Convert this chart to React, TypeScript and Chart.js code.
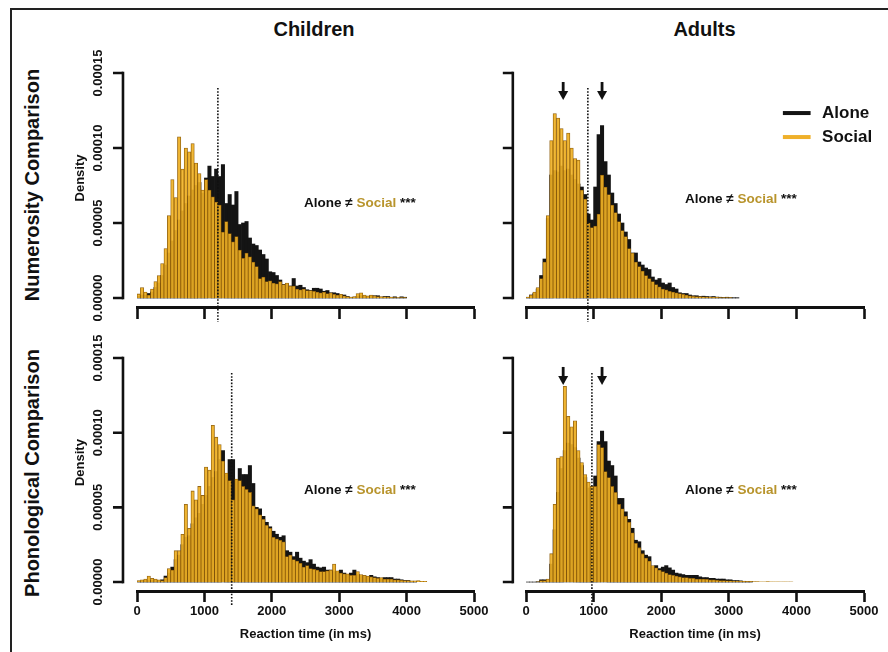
import React, { useEffect, useRef } from "react";
import { Chart, registerables } from "chart.js";

Chart.register(...registerables);

// ---------- text & style ----------
const FONT = '"Liberation Sans", Arial, Helvetica, sans-serif';
const INK = "#111111";
const SOCIAL_FILL = "rgba(241,178,38,0.9)";
const SOCIAL_EDGE = "rgba(140,92,10,0.95)";
const SOCIAL_LINE = "#EFB02A";
const SOCIAL_TEXT = "#B8942C";
const ALONE_FILL = "#141414";

const COLUMN_TITLES = ["Children", "Adults"];
const ROW_TITLES = ["Numerosity Comparison", "Phonological Comparison"];
const SERIES = ["Alone", "Social"];
const NOTE_PARTS = ["Alone \u2260 ", "Social", " ***"];
const X_TITLE = "Reaction time (in ms)";
const Y_TITLE = "Density";

// ---------- scales ----------
const BIN_MS = 50;
const DENSITY_UNIT = 1e-5; // histogram values below are in units of 0.00001
const X_MIN = 0;
const X_MAX = 5000;
const X_STEP = 1000;
const Y_MIN = -0.000006;
const Y_TICKS = [0, 0.00005, 0.0001, 0.00015];
const DENSITY_LABEL_AT = 0.00008;
const MEDIAN_LINE_TOP = 0.00014;
const ARROW_FROM = 0.000144;
const ARROW_TO = 0.000132;

// ---------- data (density per 50 ms bin, x 1e-5) ----------
const CHILD_NUM_SOCIAL = [
  0.27, 0.7, 0.4, 0.2, 0.6, 1.1, 1.5, 2.3, 3.3, 5.5,
  7.9, 6.7, 10.75, 8.6, 10.0, 9.75, 10.3, 9.0, 8.3, 7.2,
  7.9, 7.2, 6.75, 6.4, 6.2, 4.4, 5.1, 4.3, 3.75, 4.1,
  3.2, 2.65, 3.0, 2.75, 2.4, 2.1, 1.3, 1.4, 1.1, 1.15,
  1.0, 0.95, 1.1, 0.9, 1.0, 0.8, 0.8, 0.6, 0.55, 0.6,
  0.5, 0.5, 0.45, 0.4, 0.35, 0.4, 0.3, 0.35, 0.25, 0.2,
  0.25, 0.15, 0.1, 0.05, 0.1, 0.3, 0.35, 0.2, 0.15, 0.2,
  0.15, 0.1, 0.1, 0.08, 0.05, 0.05, 0.03, 0.03, 0.02, 0.02,
];
const CHILD_NUM_ALONE = [
  0.1, 0.2, 0.2, 0.3, 0.4, 0.7, 1.0, 1.5, 2.2, 3.0,
  3.8, 4.5, 5.2, 5.8, 6.3, 6.8, 7.2, 7.5, 7.7, 7.0,
  8.0, 8.8, 8.1, 8.6, 8.1, 8.9, 6.3, 6.9, 6.2, 7.1,
  4.9, 5.0, 5.1, 4.0, 3.6, 3.5, 3.2, 2.9, 2.6, 1.75,
  1.7, 1.5, 1.2, 0.9, 0.9, 0.8, 1.3, 0.8, 0.85, 0.7,
  0.55, 0.5, 0.65, 0.65, 0.6, 0.45, 0.5, 0.35, 0.35, 0.3,
  0.2, 0.2, 0.1, 0.05, 0.05, 0.1, 0.15, 0.1, 0.1, 0.15,
  0.15, 0.15, 0.05, 0.1, 0.1, 0.05, 0.08, 0, 0.08, 0.05,
];
const ADULT_NUM_SOCIAL = [
  0.05, 0.2, 0.4, 0.7, 1.3, 2.4, 5.5, 10.5, 12.3, 12.0,
  11.3, 10.5, 11.0, 10.0, 9.3, 9.2, 7.2, 6.6, 5.0, 4.7,
  4.8, 5.6, 8.2, 7.4, 6.9, 6.2, 5.7, 5.1, 4.5, 4.1,
  3.3, 3.0, 2.4, 2.1, 1.8, 1.5, 1.3, 1.1, 0.9, 0.75,
  0.6, 0.55, 0.45, 0.4, 0.35, 0.3, 0.25, 0.2, 0.15, 0.12,
  0.1, 0.1, 0.08, 0.06, 0.05, 0.05, 0.04, 0.03, 0.03, 0.02,
  0.02,
];
const ADULT_NUM_ALONE = [
  0.05, 0.2, 0.3, 0.6, 1.5, 2.6, 5.3, 8.2, 8.5, 8.4,
  8.8, 8.5, 8.6, 8.2, 7.9, 7.6, 7.4, 6.9, 5.6, 5.2,
  7.4, 10.9, 11.5, 9.1, 8.2, 7.0, 6.3, 5.6, 5.0, 4.4,
  3.9, 3.0, 3.0, 2.4, 2.2, 2.0, 1.9, 1.4, 1.2, 1.3,
  1.0, 0.9, 1.0, 0.7, 0.6, 0.35, 0.3, 0.3, 0.2, 0.15,
  0.15, 0.1, 0.12, 0.1, 0.08, 0.1, 0.06, 0.05, 0.04, 0.05,
  0.03, 0.02, 0.02,
];
const CHILD_PHON_SOCIAL = [
  0.1, 0.15, 0.2, 0.4, 0.25, 0.2, 0.15, 0.1, 0.3, 0.9,
  0.8, 2.1, 2.1, 3.2, 5.2, 3.6, 6.1, 5.5, 6.4, 5.8,
  7.7, 7.5, 10.5, 9.7, 9.2, 8.1, 7.3, 6.8, 5.5, 6.9,
  6.8, 6.4, 6.2, 6.0, 5.1, 4.9, 4.5, 4.2, 3.8, 3.6,
  3.0, 2.9, 2.8, 2.7, 1.7, 1.8, 1.5, 1.4, 1.25, 1.0,
  1.1, 0.9, 0.85, 0.8, 0.7, 0.7, 0.75, 0.8, 1.2, 0.75,
  0.6, 0.55, 0.55, 0.45, 0.45, 0.7, 0.5, 0.45, 0.4, 0.35,
  0.3, 0.25, 0.3, 0.2, 0.2, 0.2, 0.15, 0.15, 0.12, 0.1,
  0.1, 0.08, 0.08, 0.1, 0.05, 0.05,
];
const CHILD_PHON_ALONE = [
  0.05, 0.05, 0.1, 0.1, 0.1, 0.1, 0.1, 0.15, 0.4, 0.6,
  1.0, 1.5, 1.8, 2.5, 3.0, 3.1, 3.9, 4.3, 4.6, 5.2,
  5.8, 6.4, 7.0, 7.4, 8.2, 8.8, 7.2, 8.2, 8.2, 6.8,
  7.6, 7.2, 7.2, 7.8, 6.6, 5.0, 4.9, 4.4, 4.0, 3.7,
  3.4, 3.2, 3.0, 3.1, 2.1, 2.0, 1.7, 2.0, 1.6, 1.4,
  1.3, 1.5, 1.2, 1.0, 0.95, 1.0, 0.8, 0.8, 0.7, 0.65,
  0.8, 0.6, 0.5, 0.6, 0.8, 0.5, 0.45, 0.4, 0.35, 0.45,
  0.35, 0.3, 0.25, 0.3, 0.3, 0.3, 0.2, 0.2, 0.15, 0.1,
  0.1, 0.05, 0.05,
];
const ADULT_PHON_SOCIAL = [
  0, 0, 0, 0.02, 0.1, 0.1, 0.2, 1.9, 5.2, 8.3,
  8.4, 13.1, 11.1, 10.4, 10.8, 8.8, 8.0, 7.2, 6.7, 6.4,
  6.4, 9.2, 9.0, 7.4, 7.0, 6.4, 6.0, 5.2, 4.9, 4.4,
  4.0, 3.3, 2.6, 2.3, 1.9, 1.6, 1.4, 1.1, 0.95, 0.8,
  0.7, 0.6, 0.5, 0.45, 0.4, 0.35, 0.3, 0.3, 0.25, 0.25,
  0.2, 0.2, 0.2, 0.18, 0.15, 0.15, 0.12, 0.1, 0.1, 0.08,
  0.08, 0.06, 0.05, 0.05, 0.05, 0.04, 0.04, 0.03, 0.03, 0.02,
  0.02, 0.03, 0.02, 0.02, 0.02, 0.01, 0.02, 0.01, 0.01,
];
const ADULT_PHON_ALONE = [
  0, 0, 0, 0.02, 0.15, 0.15, 0.1, 1.2, 3.5, 6.0,
  7.6, 8.8, 9.3, 9.2, 9.0, 8.3, 7.8, 7.0, 6.3, 6.0,
  7.1, 9.4, 10.1, 9.4, 8.1, 7.8, 7.1, 5.6, 5.6, 4.7,
  4.2, 3.6, 2.8, 2.7, 2.1, 1.8, 1.7, 1.0, 1.1, 0.9,
  1.0, 1.1, 0.95, 0.8, 0.6, 0.55, 0.5, 0.45, 0.45, 0.45,
  0.45, 0.35, 0.3, 0.3, 0.25, 0.25, 0.2, 0.2, 0.2, 0.15,
  0.15, 0.1, 0.1, 0.08, 0.05, 0.04, 0.03,
];

const MEDIAN_MS = { childNum: 1200, adultNum: 915, childPhon: 1405, adultPhon: 975 };
const MODE_ARROWS_MS = [550, 1125];

// note positions (ms, density)
const NOTE_AT = {
  childNum: [2478, 0.0000629],
  adultNum: [2352, 0.000066],
  childPhon: [2478, 0.0000613],
  adultPhon: [2352, 0.0000613],
};
const LEGEND_LINE_MS = [3800, 4210];
const LEGEND_TEXT_MS = 4380;
const LEGEND_ROWS = [0.0001233, 0.0001073];

type Spec = {
  alone: number[];
  social: number[];
  median: number;
  note: number[];
  arrows: boolean;
  legend: boolean;
  yLabels: boolean;
  xLabels: boolean;
  yAxisAt: number;
  box: { left: number; top: number; width: number; height: number };
  pad: { left: number; right: number; top: number; bottom: number };
  xHeight: number;
  tickLen: number;
};

function toBins(vals: number[]) {
  return vals.map((v, i) => ({ x: i * BIN_MS + BIN_MS / 2, y: v * DENSITY_UNIT }));
}

function makeDecor(p: Spec) {
  return {
    id: "panelDecor",
    afterDraw(chart: any) {
      const ctx = chart.ctx;
      const xs = chart.scales.x;
      const ys = chart.scales.y;
      const ax = xs.getPixelForValue(p.yAxisAt);
      const yb = ys.getPixelForValue(Y_TICKS[0]);
      const yt = ys.getPixelForValue(Y_TICKS[Y_TICKS.length - 1]);
      ctx.save();
      ctx.strokeStyle = INK;
      ctx.fillStyle = INK;
      // y axis line + ticks
      ctx.lineWidth = 2.6;
      ctx.beginPath();
      ctx.moveTo(ax, yb + 1.3);
      ctx.lineTo(ax, yt - 1.3);
      ctx.stroke();
      ctx.beginPath();
      Y_TICKS.forEach((t) => {
        const py = ys.getPixelForValue(t);
        ctx.moveTo(ax, py);
        ctx.lineTo(ax - 10, py);
      });
      ctx.stroke();
      if (p.yLabels) {
        ctx.font = `bold 13px ${FONT}`;
        ctx.textAlign = "center";
        ctx.textBaseline = "middle";
        Y_TICKS.forEach((t) => {
          const py = ys.getPixelForValue(t);
          ctx.save();
          ctx.translate(ax - 25, py);
          ctx.rotate(-Math.PI / 2);
          ctx.fillText(t.toFixed(5), 0, 0);
          ctx.restore();
        });
        ctx.save();
        ctx.translate(ax - 43, ys.getPixelForValue(DENSITY_LABEL_AT));
        ctx.rotate(-Math.PI / 2);
        ctx.fillText(Y_TITLE, 0, 0);
        ctx.restore();
      }
      // median dotted line
      const mx = xs.getPixelForValue(p.median);
      ctx.lineWidth = 1.6;
      ctx.setLineDash([1.6, 1.6]);
      ctx.beginPath();
      ctx.moveTo(mx, ys.getPixelForValue(MEDIAN_LINE_TOP));
      ctx.lineTo(mx, chart.chartArea.bottom + 15);
      ctx.stroke();
      ctx.setLineDash([]);
      // arrows
      if (p.arrows) {
        MODE_ARROWS_MS.forEach((ms) => {
          const x = xs.getPixelForValue(ms);
          const y1 = ys.getPixelForValue(ARROW_FROM);
          const y2 = ys.getPixelForValue(ARROW_TO);
          ctx.lineWidth = 2.8;
          ctx.beginPath();
          ctx.moveTo(x, y1);
          ctx.lineTo(x, y2 - 6);
          ctx.stroke();
          ctx.beginPath();
          ctx.moveTo(x - 5, y2 - 9);
          ctx.lineTo(x + 5, y2 - 9);
          ctx.lineTo(x, y2);
          ctx.closePath();
          ctx.fill();
        });
      }
      // note
      ctx.font = `bold 13.5px ${FONT}`;
      ctx.textAlign = "left";
      ctx.textBaseline = "middle";
      let nx = xs.getPixelForValue(p.note[0]);
      const ny = ys.getPixelForValue(p.note[1]);
      NOTE_PARTS.forEach((part, i) => {
        ctx.fillStyle = i === 1 ? SOCIAL_TEXT : INK;
        ctx.fillText(part, nx, ny);
        nx += ctx.measureText(part).width;
      });
      // legend
      if (p.legend) {
        ctx.font = `bold 17px ${FONT}`;
        SERIES.forEach((name, i) => {
          const ds = chart.data.datasets.find((d: any) => d.label === name);
          const py = ys.getPixelForValue(LEGEND_ROWS[i]);
          ctx.strokeStyle = name === "Social" ? SOCIAL_LINE : ds.backgroundColor;
          ctx.lineWidth = 4;
          ctx.beginPath();
          ctx.moveTo(xs.getPixelForValue(LEGEND_LINE_MS[0]), py);
          ctx.lineTo(xs.getPixelForValue(LEGEND_LINE_MS[1]), py);
          ctx.stroke();
          ctx.fillStyle = INK;
          ctx.fillText(ds.label, xs.getPixelForValue(LEGEND_TEXT_MS), py);
        });
      }
      ctx.restore();
    },
  };
}

function Panel({ spec }: { spec: Spec }) {
  const ref = useRef<HTMLCanvasElement | null>(null);
  useEffect(() => {
    if (!ref.current) return;
    const tickFont = { family: FONT, size: 13, weight: "bold" as const };
    const chart = new Chart(ref.current, {
      type: "bar",
      data: {
        datasets: [
          {
            label: "Social",
            data: toBins(spec.social),
            backgroundColor: SOCIAL_FILL,
            borderColor: SOCIAL_EDGE,
            borderWidth: 0.8,
            barPercentage: 1,
            categoryPercentage: 1,
            grouped: false,
            order: 0,
          } as any,
          {
            label: "Alone",
            data: toBins(spec.alone),
            backgroundColor: ALONE_FILL,
            borderWidth: 0,
            barPercentage: 1,
            categoryPercentage: 1,
            grouped: false,
            order: 1,
          } as any,
        ],
      },
      options: {
        responsive: false,
        animation: false,
        devicePixelRatio: 1,
        events: [],
        layout: { padding: spec.pad, autoPadding: false } as any,
        plugins: { legend: { display: false }, tooltip: { enabled: false } },
        scales: {
          x: {
            type: "linear",
            min: X_MIN,
            max: X_MAX,
            offset: false,
            ticks: {
              stepSize: X_STEP,
              display: spec.xLabels,
              autoSkip: false,
              maxRotation: 0,
              padding: 2,
              color: INK,
              font: tickFont,
              callback: (v: any) => String(v),
            },
            grid: {
              display: true,
              drawOnChartArea: false,
              drawTicks: true,
              tickLength: spec.tickLen,
              tickColor: INK,
              tickWidth: 2.6,
              offset: false,
            },
            border: { display: true, color: INK, width: 3 },
            title: {
              display: spec.xLabels,
              text: X_TITLE,
              color: INK,
              font: tickFont,
              padding: 0,
            },
            afterFit: (s: any) => {
              s.height = spec.xHeight;
            },
          } as any,
          y: {
            type: "linear",
            display: false,
            min: Y_MIN,
            max: Y_TICKS[Y_TICKS.length - 1],
          },
        },
      },
      plugins: [makeDecor(spec)],
    });
    return () => chart.destroy();
  }, [spec]);
  const b = spec.box;
  return (
    <canvas
      ref={ref}
      width={b.width}
      height={b.height}
      style={{ position: "absolute", left: b.left, top: b.top, width: b.width, height: b.height }}
    />
  );
}

const TOP_PAD_L = { left: 77, right: 26, top: 23, bottom: 21 };
const TOP_PAD_R = { left: 76, right: 24, top: 23, bottom: 21 };
const BOT_PAD_L = { left: 77, right: 26, top: 23, bottom: 10 };
const BOT_PAD_R = { left: 76, right: 24, top: 23, bottom: 10 };

const SPECS: Spec[] = [
  {
    alone: CHILD_NUM_ALONE, social: CHILD_NUM_SOCIAL, median: MEDIAN_MS.childNum, note: NOTE_AT.childNum,
    arrows: false, legend: false, yLabels: true, xLabels: false, yAxisAt: -208,
    box: { left: 60, top: 50, width: 440, height: 290 }, pad: TOP_PAD_L, xHeight: 12, tickLen: 12,
  },
  {
    alone: ADULT_NUM_ALONE, social: ADULT_NUM_SOCIAL, median: MEDIAN_MS.adultNum, note: NOTE_AT.adultNum,
    arrows: true, legend: true, yLabels: false, xLabels: false, yAxisAt: -195,
    box: { left: 450, top: 50, width: 438, height: 290 }, pad: TOP_PAD_R, xHeight: 12, tickLen: 12,
  },
  {
    alone: CHILD_PHON_ALONE, social: CHILD_PHON_SOCIAL, median: MEDIAN_MS.childPhon, note: NOTE_AT.childPhon,
    arrows: false, legend: false, yLabels: true, xLabels: true, yAxisAt: -208,
    box: { left: 60, top: 335, width: 440, height: 317 }, pad: BOT_PAD_L, xHeight: 51, tickLen: 11,
  },
  {
    alone: ADULT_PHON_ALONE, social: ADULT_PHON_SOCIAL, median: MEDIAN_MS.adultPhon, note: NOTE_AT.adultPhon,
    arrows: true, legend: false, yLabels: false, xLabels: true, yAxisAt: -195,
    box: { left: 450, top: 335, width: 438, height: 317 }, pad: BOT_PAD_R, xHeight: 51, tickLen: 11,
  },
];

const centered = (x: number, y: number, rotate = false): React.CSSProperties => ({
  position: "absolute",
  left: x,
  top: y,
  transform: `translate(-50%, -50%)${rotate ? " rotate(-90deg)" : ""}`,
  whiteSpace: "nowrap",
  fontWeight: "bold",
  fontSize: 20,
  lineHeight: 1,
  color: INK,
});

export default function App() {
  return (
    <div
      style={{
        position: "absolute",
        left: 0,
        top: 0,
        width: 888,
        height: 652,
        overflow: "hidden",
        background: "#ffffff",
        fontFamily: FONT,
      }}
    >
      <div
        style={{
          position: "absolute",
          left: 10,
          top: 8,
          width: 900,
          height: 700,
          borderLeft: `2.5px solid #222`,
          borderTop: `2.5px solid #222`,
        }}
      />
      <div style={centered(314, 29)}>{COLUMN_TITLES[0]}</div>
      <div style={centered(704.5, 29)}>{COLUMN_TITLES[1]}</div>
      <div style={centered(32, 184.5, true)}>{ROW_TITLES[0]}</div>
      <div style={centered(32, 472.5, true)}>{ROW_TITLES[1]}</div>
      {SPECS.map((s, i) => (
        <Panel key={i} spec={s} />
      ))}
    </div>
  );
}
